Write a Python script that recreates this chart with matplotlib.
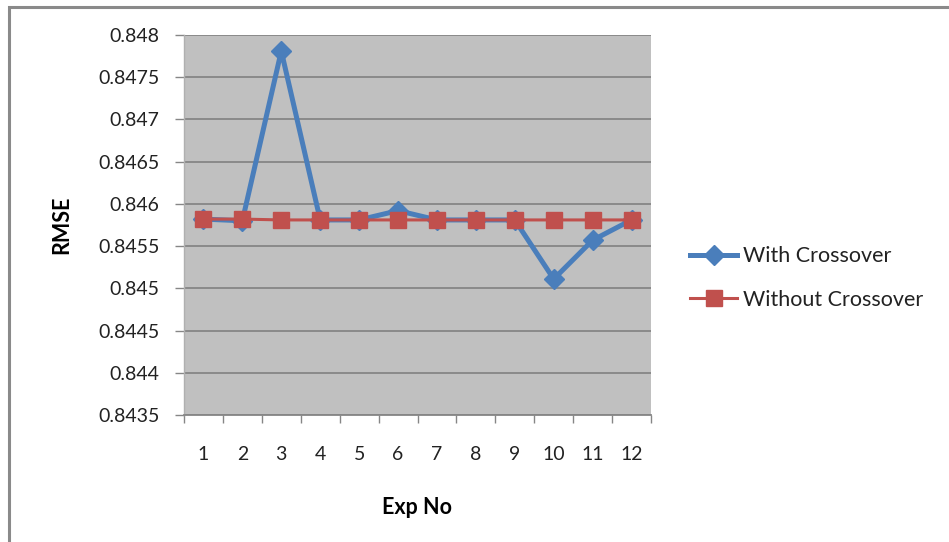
import matplotlib
matplotlib.use("Agg")
import matplotlib.pyplot as plt
from matplotlib.patches import Rectangle
from matplotlib.ticker import FixedLocator, NullFormatter, FixedFormatter

# Experiment numbers and RMSE per run
exp_no = [1, 2, 3, 4, 5, 6, 7, 8, 9, 10, 11, 12]
with_crossover = [0.84582, 0.84580, 0.84781, 0.84581, 0.84581, 0.84592,
                  0.84581, 0.84581, 0.84581, 0.84511, 0.84557, 0.84581]
without_crossover = [0.84582, 0.84582, 0.84581, 0.84581, 0.84581, 0.84581,
                     0.84581, 0.84581, 0.84581, 0.84581, 0.84581, 0.84581]
y_ticks = [0.8435, 0.844, 0.8445, 0.845, 0.8455, 0.846, 0.8465, 0.847, 0.8475, 0.848]
y_tick_labels = ["0.8435", "0.844", "0.8445", "0.845", "0.8455", "0.846",
                 "0.8465", "0.847", "0.8475", "0.848"]

plt.rcParams['font.family'] = ['Lato', 'DejaVu Sans']

fig = plt.figure(figsize=(9.49, 5.42), dpi=100)
fig.patch.set_facecolor('white')

# chart frame
fig.patches.append(Rectangle((9 / 949, -0.1), 1.2, 1 - 7 / 542 + 0.1,
                             transform=fig.transFigure, fill=False,
                             edgecolor='#8a8a8a', linewidth=2.2, zorder=0))

ax = fig.add_axes([184 / 949, 1 - 415 / 542, (651 - 184) / 949, (415 - 35) / 542])
ax.set_facecolor('#c0c0c0')

grid_color = '#868686'
ax.set_ylim(0.8435, 0.848)
ax.set_xlim(0.5, 12.5)
ax.yaxis.set_major_locator(FixedLocator(y_ticks))
ax.yaxis.set_major_formatter(FixedFormatter(y_tick_labels))
ax.grid(axis='y', color=grid_color, linewidth=1.3, zorder=1)
ax.set_axisbelow(True)

# category ticks on boundaries, labels at centers
ax.xaxis.set_major_locator(FixedLocator([x + 0.5 for x in range(0, 13)]))
ax.xaxis.set_major_formatter(NullFormatter())
ax.xaxis.set_minor_locator(FixedLocator(exp_no))
ax.xaxis.set_minor_formatter(FixedFormatter([str(x) for x in exp_no]))
ax.tick_params(axis='x', which='major', length=6, width=1, color=grid_color, direction='out')
ax.tick_params(axis='x', which='minor', length=0, pad=22, labelsize=14, labelcolor='#222222')
ax.tick_params(axis='y', which='major', length=6.5, width=1, color=grid_color, pad=11,
               labelsize=14, labelcolor='#222222')

for side in ['top', 'right']:
    ax.spines[side].set_visible(False)
ax.spines['bottom'].set_color(grid_color)
ax.spines['bottom'].set_linewidth(1.3)
ax.spines['left'].set_color('#b0b0b0')
ax.spines['left'].set_linewidth(1)

ax.plot(exp_no, with_crossover, color='#4a7ebb', linewidth=3.6, marker='D',
        markersize=10, markeredgecolor='#4a7ebb', label='With Crossover', zorder=3)
ax.plot(exp_no, without_crossover, color='#c0504d', linewidth=2.2, marker='s',
        markersize=12, markeredgecolor='#c0504d', label='Without Crossover', zorder=4)

ax.set_ylabel('RMSE', fontsize=15.5, fontweight='bold')
ax.set_xlabel('Exp No', fontsize=15.5, fontweight='bold')
ax.yaxis.set_label_coords(-0.24, 0.5)
ax.xaxis.set_label_coords(0.5, -0.215)

leg = fig.legend(loc='center left', bbox_to_anchor=(690 / 949, 1 - 278 / 542),
                 frameon=False, fontsize=15.5, handlelength=2.2, handletextpad=0.25,
                 labelspacing=1.1, borderpad=0, borderaxespad=0)
for t in leg.get_texts():
    t.set_color('#222222')

fig.savefig('out.png', dpi=100, facecolor='white')
